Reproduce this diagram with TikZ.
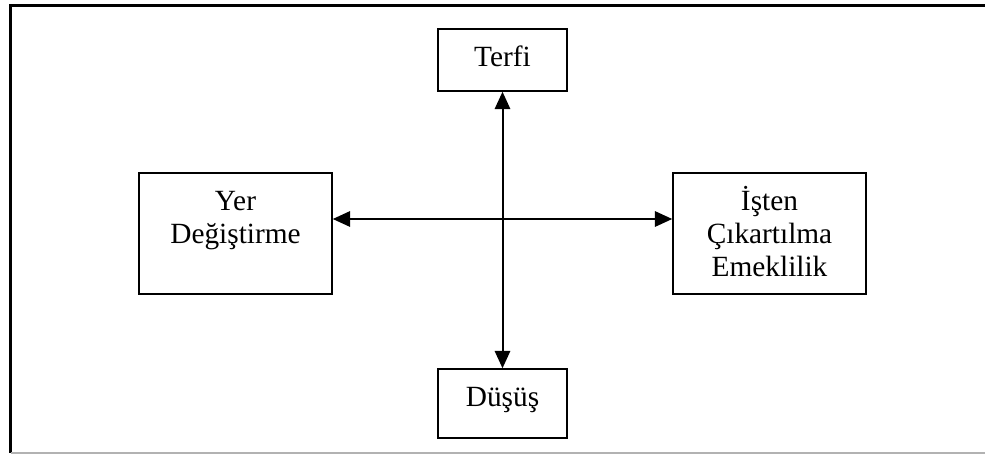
\documentclass[tikz,border=0pt]{standalone}
\usepackage{fontspec}
\setmainfont{Liberation Serif}
\usetikzlibrary{arrows.meta}
% text set from the top of a fixed box
\newcommand{\boxtext}[3]{\parbox[t][#2][t]{#1}{\centering\rule{0pt}{27.75pt}#3}}

\begin{document}
\begin{tikzpicture}[
    x=0.75pt, y=-0.75pt,
    font=\fontsize{22}{24.75}\selectfont,
    box/.style={rectangle, draw=black, line width=1.1pt, inner sep=0pt},
    arrow/.style={{Triangle[length=13pt, width=11.5pt]}-{Triangle[length=13pt, width=11.5pt]}, line width=1.5pt}
]
    \useasboundingbox (0,0) rectangle (985,454);

    % Frame
    \draw[line width=1.8pt] (985,5.5) -- (10.5,5.5) -- (10.5,453);
    \draw[black!30, line width=1pt] (10.5,453) -- (985,453);

    % Nodes
    \node[box] (terfi) at (502.5,60) {\boxtext{96.75pt}{46.5pt}{Terfi}};
    \node[box] (dusus) at (502.5,403.5) {\boxtext{96.75pt}{51.75pt}{Düşüş}};
    \node[box] (yer) at (235.5,233.5) {\boxtext{144.75pt}{90.75pt}{Yer\\Değiştirme}};
    \node[box] (isten) at (769.5,233.5) {\boxtext{144.75pt}{90.75pt}{İşten\\Çıkartılma\\Emeklilik}};
    \coordinate (cross) at (502.5,219);

    % Arrows
    \draw[arrow] (terfi) -- (dusus);
    \draw[arrow] (yer.east |- cross) -- (isten.west |- cross);
\end{tikzpicture}
\end{document}
